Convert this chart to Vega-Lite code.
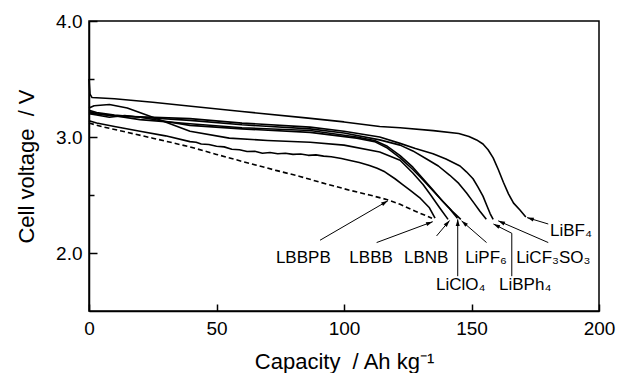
{
  "$schema": "https://vega.github.io/schema/vega-lite/v6.json",
  "width": 510,
  "height": 290,
  "autosize": {"type": "none"},
  "padding": {"left": 89, "top": 21, "right": 18, "bottom": 62},
  "background": "white",
  "config": {
    "view": {"stroke": "black", "strokeWidth": 1.5},
    "font": "Liberation Sans",
    "text": {"font": "Liberation Sans"}
  },
  "datasets": {
    "curves": [
      {"series":"LiBF4","capacity":0,"voltage":3.50},{"series":"LiBF4","capacity":0.4,"voltage":3.37},{"series":"LiBF4","capacity":1.2,"voltage":3.34},{"series":"LiBF4","capacity":10,"voltage":3.33},{"series":"LiBF4","capacity":25,"voltage":3.30},{"series":"LiBF4","capacity":40,"voltage":3.265},{"series":"LiBF4","capacity":60,"voltage":3.22},{"series":"LiBF4","capacity":85,"voltage":3.165},{"series":"LiBF4","capacity":100,"voltage":3.13},{"series":"LiBF4","capacity":114,"voltage":3.09},{"series":"LiBF4","capacity":122,"voltage":3.08},{"series":"LiBF4","capacity":135,"voltage":3.055},{"series":"LiBF4","capacity":145,"voltage":3.03},{"series":"LiBF4","capacity":149,"voltage":3.005},{"series":"LiBF4","capacity":152,"voltage":2.975},{"series":"LiBF4","capacity":154.5,"voltage":2.94},{"series":"LiBF4","capacity":156.5,"voltage":2.89},{"series":"LiBF4","capacity":158.5,"voltage":2.82},{"series":"LiBF4","capacity":160.5,"voltage":2.72},{"series":"LiBF4","capacity":162.5,"voltage":2.61},{"series":"LiBF4","capacity":164.5,"voltage":2.51},{"series":"LiBF4","capacity":166.5,"voltage":2.43},{"series":"LiBF4","capacity":169,"voltage":2.37},{"series":"LiBF4","capacity":171.3,"voltage":2.31},
      {"series":"LiCF3SO3","capacity":0,"voltage":3.22},{"series":"LiCF3SO3","capacity":3,"voltage":3.20},{"series":"LiCF3SO3","capacity":10,"voltage":3.18},{"series":"LiCF3SO3","capacity":20,"voltage":3.175},{"series":"LiCF3SO3","capacity":39.6,"voltage":3.158},{"series":"LiCF3SO3","capacity":60,"voltage":3.12},{"series":"LiCF3SO3","capacity":86.7,"voltage":3.085},{"series":"LiCF3SO3","capacity":100,"voltage":3.05},{"series":"LiCF3SO3","capacity":114,"voltage":3.0},{"series":"LiCF3SO3","capacity":122,"voltage":2.945},{"series":"LiCF3SO3","capacity":128,"voltage":2.90},{"series":"LiCF3SO3","capacity":134.9,"voltage":2.855},{"series":"LiCF3SO3","capacity":140,"voltage":2.81},{"series":"LiCF3SO3","capacity":145.5,"voltage":2.75},{"series":"LiCF3SO3","capacity":148,"voltage":2.70},{"series":"LiCF3SO3","capacity":150.6,"voltage":2.64},{"series":"LiCF3SO3","capacity":152.5,"voltage":2.57},{"series":"LiCF3SO3","capacity":154.5,"voltage":2.49},{"series":"LiCF3SO3","capacity":156,"voltage":2.41},{"series":"LiCF3SO3","capacity":157.3,"voltage":2.34},{"series":"LiCF3SO3","capacity":158.5,"voltage":2.29},
      {"series":"LiBPh4","capacity":0,"voltage":3.23},{"series":"LiBPh4","capacity":3,"voltage":3.21},{"series":"LiBPh4","capacity":10,"voltage":3.19},{"series":"LiBPh4","capacity":20,"voltage":3.17},{"series":"LiBPh4","capacity":39.6,"voltage":3.143},{"series":"LiBPh4","capacity":60,"voltage":3.105},{"series":"LiBPh4","capacity":86.7,"voltage":3.07},{"series":"LiBPh4","capacity":100,"voltage":3.035},{"series":"LiBPh4","capacity":114,"voltage":2.975},{"series":"LiBPh4","capacity":122,"voltage":2.93},{"series":"LiBPh4","capacity":127,"voltage":2.88},{"series":"LiBPh4","capacity":132.4,"voltage":2.81},{"series":"LiBPh4","capacity":137,"voltage":2.75},{"series":"LiBPh4","capacity":141.5,"voltage":2.67},{"series":"LiBPh4","capacity":145,"voltage":2.60},{"series":"LiBPh4","capacity":148,"voltage":2.52},{"series":"LiBPh4","capacity":151,"voltage":2.43},{"series":"LiBPh4","capacity":153.3,"voltage":2.36},{"series":"LiBPh4","capacity":155.8,"voltage":2.29},
      {"series":"LiClO4","capacity":0,"voltage":3.21},{"series":"LiClO4","capacity":2,"voltage":3.20},{"series":"LiClO4","capacity":8,"voltage":3.19},{"series":"LiClO4","capacity":20,"voltage":3.15},{"series":"LiClO4","capacity":39.6,"voltage":3.114},{"series":"LiClO4","capacity":60,"voltage":3.08},{"series":"LiClO4","capacity":86.7,"voltage":3.056},{"series":"LiClO4","capacity":105,"voltage":3.0},{"series":"LiClO4","capacity":112,"voltage":2.97},{"series":"LiClO4","capacity":117,"voltage":2.92},{"series":"LiClO4","capacity":122,"voltage":2.84},{"series":"LiClO4","capacity":127,"voltage":2.74},{"series":"LiClO4","capacity":131,"voltage":2.64},{"series":"LiClO4","capacity":135,"voltage":2.54},{"series":"LiClO4","capacity":138.5,"voltage":2.45},{"series":"LiClO4","capacity":141.5,"voltage":2.38},{"series":"LiClO4","capacity":144.5,"voltage":2.30},
      {"series":"LiPF6","capacity":0,"voltage":3.20},{"series":"LiPF6","capacity":3,"voltage":3.19},{"series":"LiPF6","capacity":8,"voltage":3.17},{"series":"LiPF6","capacity":14,"voltage":3.185},{"series":"LiPF6","capacity":20,"voltage":3.17},{"series":"LiPF6","capacity":39.6,"voltage":3.10},{"series":"LiPF6","capacity":60,"voltage":3.07},{"series":"LiPF6","capacity":86.7,"voltage":3.04},{"series":"LiPF6","capacity":105,"voltage":2.99},{"series":"LiPF6","capacity":112,"voltage":2.96},{"series":"LiPF6","capacity":117,"voltage":2.905},{"series":"LiPF6","capacity":122,"voltage":2.82},{"series":"LiPF6","capacity":127,"voltage":2.72},{"series":"LiPF6","capacity":131,"voltage":2.63},{"series":"LiPF6","capacity":135,"voltage":2.535},{"series":"LiPF6","capacity":139,"voltage":2.44},{"series":"LiPF6","capacity":142.5,"voltage":2.36},{"series":"LiPF6","capacity":145.8,"voltage":2.29},
      {"series":"LBNB","capacity":0,"voltage":3.25},{"series":"LBNB","capacity":2,"voltage":3.27},{"series":"LBNB","capacity":8,"voltage":3.28},{"series":"LBNB","capacity":15,"voltage":3.25},{"series":"LBNB","capacity":25,"voltage":3.17},{"series":"LBNB","capacity":39.6,"voltage":3.05},{"series":"LBNB","capacity":55,"voltage":2.99},{"series":"LBNB","capacity":70,"voltage":2.97},{"series":"LBNB","capacity":86.7,"voltage":2.955},{"series":"LBNB","capacity":100,"voltage":2.93},{"series":"LBNB","capacity":114,"voltage":2.87},{"series":"LBNB","capacity":122,"voltage":2.80},{"series":"LBNB","capacity":127,"voltage":2.69},{"series":"LBNB","capacity":131,"voltage":2.59},{"series":"LBNB","capacity":134,"voltage":2.50},{"series":"LBNB","capacity":137.5,"voltage":2.39},{"series":"LBNB","capacity":140.8,"voltage":2.29},
      {"series":"LBBB","capacity":0,"voltage":3.14},{"series":"LBBB","capacity":3,"voltage":3.12},{"series":"LBBB","capacity":10,"voltage":3.09},{"series":"LBBB","capacity":20,"voltage":3.05},{"series":"LBBB","capacity":30,"voltage":3.01},{"series":"LBBB","capacity":39.6,"voltage":2.96},{"series":"LBBB","capacity":42,"voltage":2.955},{"series":"LBBB","capacity":44,"voltage":2.94},{"series":"LBBB","capacity":47,"voltage":2.935},{"series":"LBBB","capacity":50,"voltage":2.92},{"series":"LBBB","capacity":53,"voltage":2.915},{"series":"LBBB","capacity":56,"voltage":2.895},{"series":"LBBB","capacity":59,"voltage":2.89},{"series":"LBBB","capacity":62,"voltage":2.875},{"series":"LBBB","capacity":65,"voltage":2.877},{"series":"LBBB","capacity":68,"voltage":2.86},{"series":"LBBB","capacity":71,"voltage":2.866},{"series":"LBBB","capacity":74,"voltage":2.855},{"series":"LBBB","capacity":77,"voltage":2.86},{"series":"LBBB","capacity":80,"voltage":2.85},{"series":"LBBB","capacity":83,"voltage":2.853},{"series":"LBBB","capacity":86,"voltage":2.842},{"series":"LBBB","capacity":89,"voltage":2.846},{"series":"LBBB","capacity":92,"voltage":2.835},{"series":"LBBB","capacity":95,"voltage":2.83},{"series":"LBBB","capacity":99,"voltage":2.815},{"series":"LBBB","capacity":102,"voltage":2.80},{"series":"LBBB","capacity":106,"voltage":2.78},{"series":"LBBB","capacity":110,"voltage":2.755},{"series":"LBBB","capacity":113,"voltage":2.73},{"series":"LBBB","capacity":116,"voltage":2.70},{"series":"LBBB","capacity":120,"voltage":2.64},{"series":"LBBB","capacity":123,"voltage":2.59},{"series":"LBBB","capacity":126,"voltage":2.54},{"series":"LBBB","capacity":130,"voltage":2.47},{"series":"LBBB","capacity":133.5,"voltage":2.39},{"series":"LBBB","capacity":135.7,"voltage":2.30},
      {"series":"LBBPB","capacity":0,"voltage":3.12},{"series":"LBBPB","capacity":5,"voltage":3.09},{"series":"LBBPB","capacity":15,"voltage":3.04},{"series":"LBBPB","capacity":25,"voltage":2.99},{"series":"LBBPB","capacity":39.6,"voltage":2.915},{"series":"LBBPB","capacity":50,"voltage":2.85},{"series":"LBBPB","capacity":60,"voltage":2.79},{"series":"LBBPB","capacity":73.7,"voltage":2.71},{"series":"LBBPB","capacity":82.7,"voltage":2.66},{"series":"LBBPB","capacity":90.6,"voltage":2.61},{"series":"LBBPB","capacity":102.4,"voltage":2.54},{"series":"LBBPB","capacity":110,"voltage":2.50},{"series":"LBBPB","capacity":117,"voltage":2.46},{"series":"LBBPB","capacity":122,"voltage":2.42},{"series":"LBBPB","capacity":128,"voltage":2.36},{"series":"LBBPB","capacity":134.5,"voltage":2.30}
    ],
    "arrows": [
      {"name":"LiBF4","x":180.1,"y":2.25,"x2":171.8,"y2":2.305},
      {"name":"LiCF3SO3","x":180.1,"y":2.09,"x2":160.5,"y2":2.277},
      {"name":"LiBPh4","x":165.8,"y":2.17,"x2":158.6,"y2":2.25},
      {"name":"LiClO4","x":144.6,"y":1.80,"x2":144.6,"y2":2.29},
      {"name":"LiPF6","x":155.9,"y":2.09,"x2":146.1,"y2":2.277},
      {"name":"LBNB","x":136.3,"y":2.147,"x2":141.4,"y2":2.28},
      {"name":"LBBB","x":112.8,"y":2.09,"x2":134.8,"y2":2.27},
      {"name":"LBBPB","x":90.6,"y":2.11,"x2":117.2,"y2":2.45}
    ],
    "leaders": [
      {"name":"LiBPh4","x":165.8,"y":1.80,"x2":165.8,"y2":2.17}
    ],
    "labels": [
      {"label":"LiBF₄","x":180.8,"y":2.147},
      {"label":"LiCF₃SO₃","x":167.5,"y":1.916},
      {"label":"LiPF₆","x":147.5,"y":1.916},
      {"label":"LBNB","x":123.5,"y":1.916},
      {"label":"LBBB","x":102.1,"y":1.916},
      {"label":"LBBPB","x":73.3,"y":1.916},
      {"label":"LiClO₄","x":136.1,"y":1.684},
      {"label":"LiBPh₄","x":160.8,"y":1.684}
    ]
  },
  "layer": [
    {
      "data": {"name": "curves"},
      "transform": [{"filter": "datum.series !== 'LBBPB'"}],
      "mark": {"type": "line", "color": "black", "strokeWidth": 1.6, "strokeJoin": "round"},
      "encoding": {
        "x": {
          "field": "capacity", "type": "quantitative",
          "scale": {"domain": [0, 200], "nice": false, "zero": false},
          "axis": {
            "values": [0, 50, 100, 150, 200],
            "title": "Capacity \u00a0/ Ah kg⁻¹",
            "grid": false,
            "tickSize": -7, "tickWidth": 1.5, "tickColor": "black",
            "domainColor": "black", "domainWidth": 1.5,
            "labelFontSize": 19, "labelColor": "black", "labelPadding": 15,
            "labelFlush": false, "labelOverlap": false, "labelFont": "Liberation Sans",
            "titleFont": "Liberation Sans", "titleFontSize": 22, "titleFontWeight": "normal", "titleColor": "black",
            "titleX": 255, "titleY": 57, "titleBaseline": "alphabetic", "titleAlign": "center"
          }
        },
        "y": {
          "field": "voltage", "type": "quantitative",
          "scale": {"domain": [1.5, 4.0], "nice": false, "zero": false},
          "axis": {
            "values": [2, 2.5, 3, 3.5, 4],
            "labelExpr": "datum.value % 1 === 0 ? format(datum.value, '.1f') : ''",
            "title": "Cell voltage \u00a0/ V",
            "grid": false,
            "tickSize": {"condition": {"test": "datum.value % 1 === 0", "value": -8}, "value": -5},
            "tickWidth": 1.5, "tickColor": "black",
            "domainColor": "black", "domainWidth": 1.5,
            "labelFontSize": 19, "labelColor": "black", "labelPadding": 15,
            "labelFlush": false, "labelOverlap": false, "labelFont": "Liberation Sans",
            "titleFont": "Liberation Sans", "titleFontSize": 22, "titleFontWeight": "normal", "titleColor": "black",
            "titleAngle": -90, "titleX": -56, "titleY": 145, "titleBaseline": "alphabetic", "titleAlign": "center"
          }
        },
        "detail": {"field": "series"}
      }
    },
    {
      "data": {"name": "curves"},
      "transform": [{"filter": "datum.series === 'LBBPB'"}],
      "mark": {"type": "line", "color": "black", "strokeWidth": 1.6, "strokeDash": [5, 3]},
      "encoding": {
        "x": {"field": "capacity", "type": "quantitative"},
        "y": {"field": "voltage", "type": "quantitative"}
      }
    },
    {
      "data": {"name": "arrows"},
      "mark": {"type": "rule", "color": "black", "strokeWidth": 1},
      "encoding": {
        "x": {"field": "x", "type": "quantitative"},
        "y": {"field": "y", "type": "quantitative"},
        "x2": {"field": "x2"},
        "y2": {"field": "y2"}
      }
    },
    {
      "data": {"name": "leaders"},
      "mark": {"type": "rule", "color": "black", "strokeWidth": 1},
      "encoding": {
        "x": {"field": "x", "type": "quantitative"},
        "y": {"field": "y", "type": "quantitative"},
        "x2": {"field": "x2"},
        "y2": {"field": "y2"}
      }
    },
    {
      "data": {"name": "arrows"},
      "transform": [{"calculate": "atan2((datum.x2 - datum.x) * 2.55, (datum.y2 - datum.y) * 116) * 180 / PI", "as": "angle"}],
      "mark": {"type": "point", "shape": "M0,0L-0.3,1L0.3,1Z", "filled": true, "color": "black", "size": 180, "opacity": 1, "strokeWidth": 0},
      "encoding": {
        "x": {"field": "x2", "type": "quantitative"},
        "y": {"field": "y2", "type": "quantitative"},
        "angle": {"field": "angle", "type": "quantitative", "scale": null}
      }
    },
    {
      "data": {"name": "labels"},
      "mark": {"type": "text", "align": "left", "baseline": "alphabetic", "fontSize": 17, "color": "black", "font": "Liberation Sans"},
      "encoding": {
        "x": {"field": "x", "type": "quantitative"},
        "y": {"field": "y", "type": "quantitative"},
        "text": {"field": "label"}
      }
    }
  ]
}
